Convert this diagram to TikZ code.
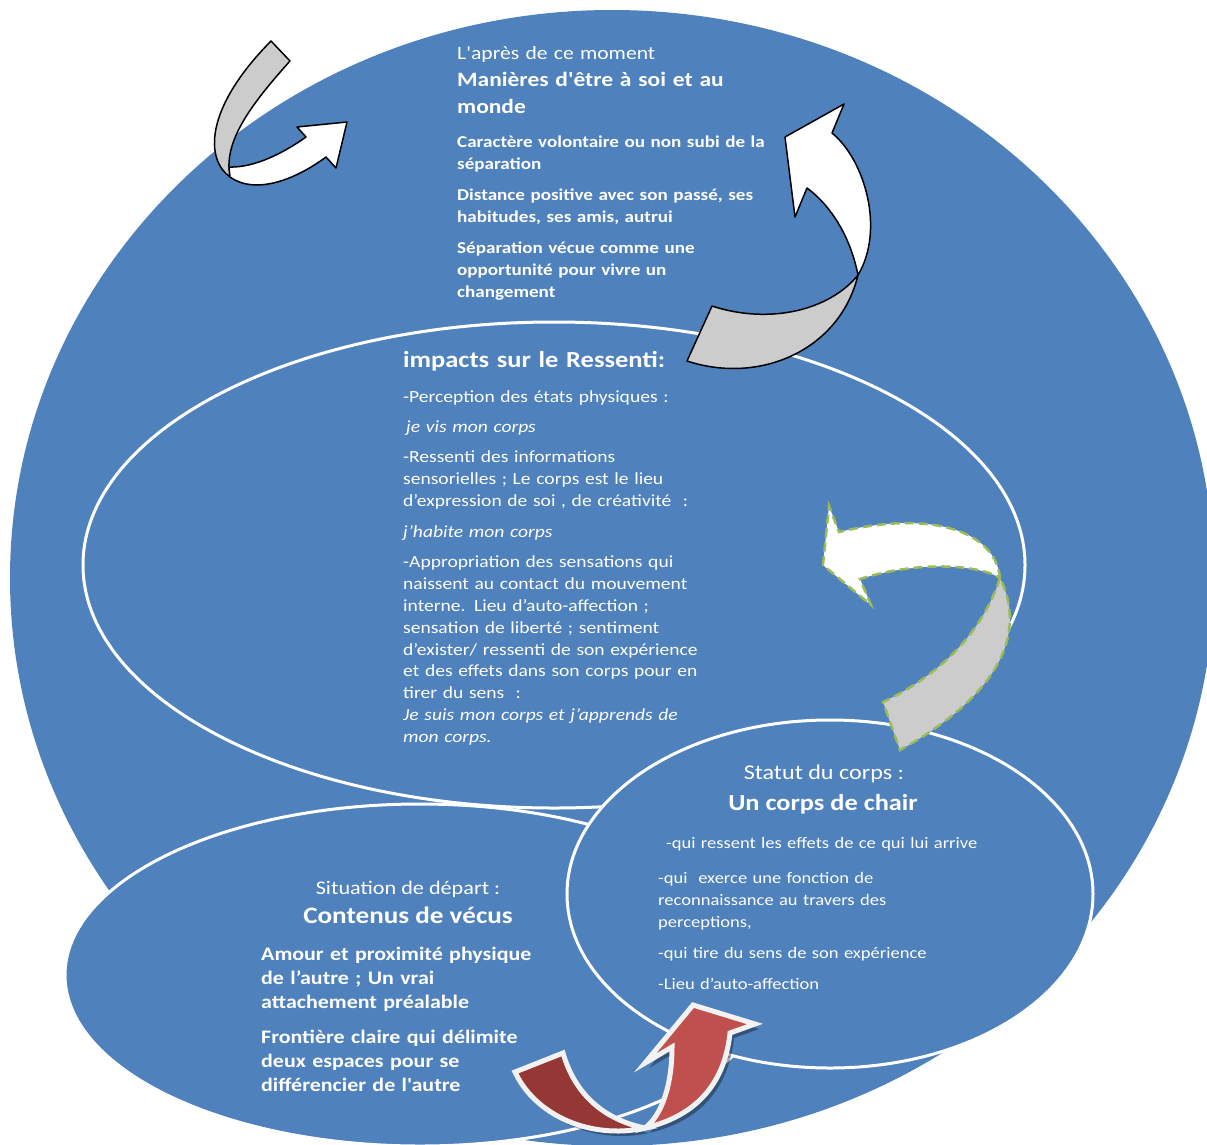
\documentclass[tikz,border=0pt]{standalone}
\usepackage{fontspec}
\setmainfont{Carlito}[Ligatures=TeXOff, FakeStretch=1.15]
\usetikzlibrary{positioning}
\definecolor{ovalblue}{HTML}{4F81BD}
\definecolor{foldgray}{HTML}{CCCCCC}
\definecolor{leafgreen}{HTML}{9BBB59}
\definecolor{redlight}{HTML}{C0504D}
\definecolor{reddark}{HTML}{953735}
\definecolor{edgewhite}{HTML}{F2F2F2}

\begin{document}
\begin{tikzpicture}[x=1pt,y=-1pt,
  zone/.style={fill=ovalblue, draw=white, line width=3pt},
  lbl/.style={text=white, inner sep=0pt, anchor=base west, text width=#1, align=left},
  lbl/.default=360pt,
  head/.style={text=white, inner sep=0pt, anchor=base},
  foldback/.style={fill=foldgray, draw=black, line width=1.5pt, line join=round},
  foldfront/.style={fill=white, draw=black, line width=1.5pt, line join=round},
  greenedge/.style={draw=leafgreen, line width=2.5pt, dash pattern=on 9pt off 5pt},
  rededge/.style={draw=edgewhite, line width=5pt}]
  \useasboundingbox (0,0) rectangle (1207,1144);
  \clip (0,0) rectangle (1207,1144);

  % ovals
  \fill[ovalblue] (612,578) ellipse [x radius=602, y radius=568];
  \draw[zone] (554,565) ellipse [x radius=471, y radius=243];
  \draw[zone] (420,975) ellipse [x radius=355, y radius=171];
  \draw[zone] (830,894) ellipse [x radius=263, y radius=174];

  % top-left ribbon arrow
  \draw[foldback] (271,41) -- (290,61) .. controls (255,100) and (228,135) .. (229,167)
    -- (230,177) .. controls (206,160) and (203,110) .. (271,41) -- cycle;
  \draw[foldfront] (229,167) .. controls (255,168) and (285,152) .. (306,137)
    -- (297,127) -- (347,122) -- (336,168) -- (326,157)
    .. controls (295,180) and (255,195) .. (230,177) -- cycle;

  % top-right ribbon arrow
  \draw[foldback] (858,275) .. controls (830,310) and (770,325) .. (712,306)
    -- (687,361) .. controls (760,385) and (840,350) .. (858,275) -- cycle;
  \draw[foldfront] (858,275) .. controls (850,235) and (830,205) .. (807,188)
    -- (795,217) -- (785,137) -- (844,104) -- (832,133)
    .. controls (865,160) and (885,230) .. (858,275) -- cycle;

  % right ribbon arrow, dashed green
  \fill[foldgray] (1000,578) .. controls (980,640) and (930,680) .. (883,702)
    -- (900,750) .. controls (990,700) and (1030,640) .. (1000,578) -- cycle;
  \draw[greenedge] (1000,578) .. controls (980,640) and (930,680) .. (883,702)
    -- (900,750) .. controls (990,700) and (1030,640) .. (1000,578) -- cycle;
  \fill[white] (1000,578) .. controls (995,530) and (930,510) .. (839,532)
    -- (829,506) -- (823,565) -- (871,605) -- (860,579)
    .. controls (920,560) and (980,565) .. (1000,578) -- cycle;
  \draw[greenedge] (1000,578) .. controls (995,530) and (930,510) .. (839,532)
    -- (829,506) -- (823,565) -- (871,605) -- (860,579)
    .. controls (920,560) and (980,565) .. (1000,578) -- cycle;

  % red arrow at the bottom
  \fill[black, opacity=0.35] (519,1077) .. controls (539,1120) and (594,1145) .. (649,1133)
    .. controls (704,1120) and (729,1085) .. (734,1038) -- (759,1029) -- (697,1010)
    -- (649,1068) -- (676,1052) .. controls (676,1090) and (666,1120) .. (649,1133)
    .. controls (609,1125) and (579,1100) .. (567,1058) -- cycle;
  \draw[rededge, fill=reddark] (515,1072) .. controls (535,1115) and (590,1140) .. (645,1128)
    .. controls (605,1120) and (575,1095) .. (563,1053) -- cycle;
  \draw[rededge, fill=redlight] (645,1128) .. controls (700,1115) and (725,1080) .. (730,1033)
    -- (755,1024) -- (693,1005) -- (645,1063) -- (672,1047)
    .. controls (672,1085) and (662,1115) .. (645,1128) -- cycle;

  % after the moment
  \node[lbl, font=\fontsize{18.8}{22}\selectfont] (apres) at (457,59) {L'après de ce moment};
  \node[lbl, font=\fontsize{20.4}{27}\selectfont\bfseries] (manieres) at (457,86)
    {Manières d'être à soi et au\\monde};
  \node[lbl, font=\fontsize{16.6}{22}\selectfont\bfseries] (apresliste) at (457,147)
    {Caractère volontaire ou non subi de la\\séparation\\[9pt]
     Distance positive avec son passé, ses\\habitudes, ses amis, autrui\\[9pt]
     Séparation vécue comme une\\opportunité pour vivre un\\changement};

  % felt impacts
  \node[lbl, font=\fontsize{23}{27}\selectfont\bfseries] (impacts) at (403,367)
    {impacts sur le Ressenti:};
  \node[lbl, font=\fontsize{17}{21.9}\selectfont] (ressenti) at (403,402)
    {-Perception des états physiques :\\[8.5pt]
     \hspace*{3pt}\textit{je vis mon corps}\\[8.5pt]
     -Ressenti des informations\\sensorielles ; Le corps est le lieu\\
     d’expression de soi , de créativité~~:\\[8.5pt]
     \textit{j’habite mon corps}\\[8.5pt]
     -Appropriation des sensations qui\\naissent au contact du mouvement\\
     interne. Lieu d’auto-affection ;\\sensation de liberté ; sentiment\\
     d’exister/ ressenti de son expérience\\et des effets dans son corps pour en\\
     tirer du sens~~:\\\textit{Je suis mon corps et j’apprends de}\\\textit{mon corps.}};

  % body status
  \node[head, font=\fontsize{21}{25}\selectfont] (statut) at (824,779) {Statut du corps :};
  \node[head, font=\fontsize{22.9}{28}\selectfont\bfseries] (chair) at (823,810) {Un corps de chair};
  \node[lbl, font=\fontsize{16.1}{22}\selectfont] (effets) at (666,848)
    {-qui ressent les effets de ce qui lui arrive};
  \node[lbl, font=\fontsize{16.1}{22}\selectfont] (fonctions) at (658,883)
    {-qui~~exerce une fonction de\\reconnaissance au travers des\\perceptions,\\[9pt]
     -qui tire du sens de son expérience\\[9pt]-Lieu d’auto-affection};

  % starting point
  \node[head, font=\fontsize{19.3}{23}\selectfont] (situation) at (408,894) {Situation de départ :};
  \node[head, font=\fontsize{23.6}{28}\selectfont\bfseries] (contenus) at (408,923) {Contenus de vécus};
  \node[lbl, font=\fontsize{19.1}{24}\selectfont\bfseries] (vecus) at (261,960)
    {Amour et proximité physique\\de l’autre ; Un vrai\\attachement préalable\\[11pt]
     Frontière claire qui délimite\\deux espaces pour se\\différencier de l'autre};
\end{tikzpicture}
\end{document}
